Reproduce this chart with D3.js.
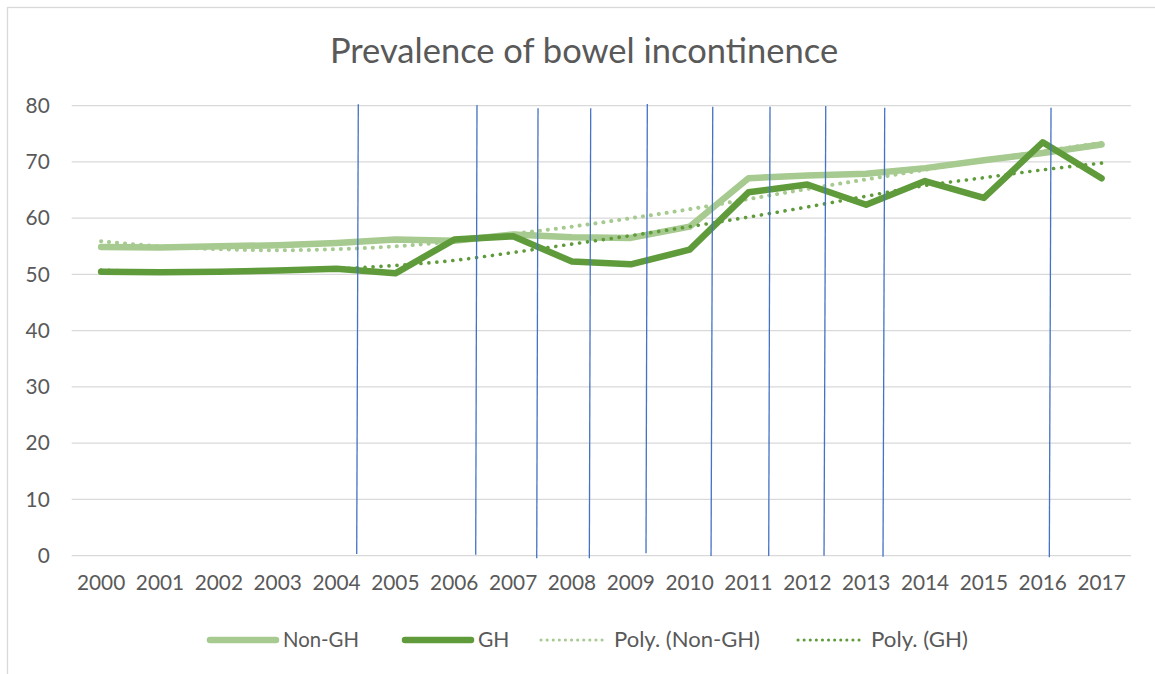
<!DOCTYPE html>
<html>
<head>
<meta charset="utf-8">
<script src="https://cdn.jsdelivr.net/npm/d3@7"></script>
<style>
  html, body { margin: 0; padding: 0; background: #fff; }
  svg { display: block; font-family: Lato, "Open Sans", sans-serif; }
</style>
</head>
<body>
<svg id="chart" width="1155" height="674"></svg>
<script>
// Category axis and series values
const years = ["2000","2001","2002","2003","2004","2005","2006","2007","2008","2009",
               "2010","2011","2012","2013","2014","2015","2016","2017"];
const nonGH = [54.9, 54.8, 55.0, 55.2, 55.6, 56.2, 56.0, 57.1, 56.6, 56.5,
               58.5, 67.1, 67.6, 67.9, 68.9, 70.3, 71.6, 73.1];
const gh    = [50.5, 50.4, 50.5, 50.7, 51.0, 50.2, 56.2, 56.8, 52.3, 51.8,
               54.4, 64.6, 66.0, 62.4, 66.6, 63.6, 73.5, 67.1];
// Polynomial trend lines
const polyNonGH = [55.9, 55.0, 54.5, 54.3, 54.5, 55.0, 55.9, 57.2, 58.5, 60.0,
                   61.6, 63.4, 65.2, 66.9, 68.6, 70.3, 71.9, 73.4];
const polyGH    = [50.8, 50.5, 50.4, 50.6, 51.0, 51.6, 52.5, 53.9, 55.4, 56.9,
                   58.5, 60.2, 62.0, 63.9, 65.8, 67.2, 68.6, 69.8];
const yTicks = [0, 10, 20, 30, 40, 50, 60, 70, 80];
// Hand-drawn vertical marker lines: [year offset top, value top, year offset bottom, value bottom]
const markers = [
  [4.370, 80.25, 4.343, 0.30],
  [6.387, 80.12, 6.365, 0.18],
  [7.424, 79.54, 7.402, -0.46],
  [8.319, 79.54, 8.296, -0.46],
  [9.281, 80.30, 9.259, 0.43],
  [10.393, 79.82, 10.364, -0.05],
  [11.366, 79.82, 11.344, -0.05],
  [12.313, 79.95, 12.284, 0.00],
  [13.315, 79.64, 13.286, -0.18],
  [16.141, 79.64, 16.112, -0.28]
];

const svg = d3.select("#chart");
const textColor = "#595959";
const gridColor = "#D9D9D9";
const lightGreen = "#A6CA8F";
const darkGreen = "#5F9B3B";
const blue = "#4472C4";
const font = "Lato, 'Open Sans', sans-serif";

// Chart-area border
svg.append("rect")
  .attr("x", 7.5).attr("y", 7.5)
  .attr("width", 1160).attr("height", 700)
  .attr("fill", "none").attr("stroke", gridColor).attr("stroke-width", 1.3);

const plot = { left: 71.7, right: 1131, top: 105.7, bottom: 555.7 };

const x = d3.scaleBand().domain(years).range([plot.left, plot.right]);
const y = d3.scaleLinear().domain([0, 80]).range([plot.bottom, plot.top]);
const xc = i => x(years[0]) + x.bandwidth() / 2 + i * x.step();

// Title
svg.append("text")
  .attr("x", 584).attr("y", 63)
  .attr("text-anchor", "middle")
  .attr("fill", textColor)
  .attr("font-size", 34.5)
  .text("Prevalence of bowel incontinence");

// Gridlines
svg.append("g")
  .selectAll("line").data(yTicks).join("line")
  .attr("x1", plot.left).attr("x2", plot.right)
  .attr("y1", d => y(d)).attr("y2", d => y(d))
  .attr("stroke", gridColor).attr("stroke-width", 1.3);

// Y axis labels
const yAxis = svg.append("g")
  .attr("transform", `translate(${plot.left},0)`)
  .call(d3.axisLeft(y).tickValues(yTicks).tickSize(0).tickPadding(22));
yAxis.select(".domain").remove();
yAxis.selectAll("text").attr("fill", textColor).attr("font-size", 20.8)
  .attr("font-family", font);

// X axis labels
const xAxis = svg.append("g")
  .attr("transform", `translate(0,${plot.bottom})`)
  .call(d3.axisBottom(x).tickSize(0).tickPadding(20));
xAxis.select(".domain").remove();
xAxis.selectAll("text").attr("fill", textColor).attr("font-size", 20.8)
  .attr("font-family", font);

// Series lines
const line = d3.line().x((d, i) => xc(i)).y(d => y(d));
const curve = d3.line().x((d, i) => xc(i)).y(d => y(d)).curve(d3.curveCatmullRom);

svg.append("path").datum(nonGH).attr("d", line)
  .attr("fill", "none").attr("stroke", lightGreen).attr("stroke-width", 6.5)
  .attr("stroke-linejoin", "round").attr("stroke-linecap", "round");
svg.append("path").datum(polyNonGH).attr("d", curve)
  .attr("fill", "none").attr("stroke", lightGreen).attr("stroke-width", 4)
  .attr("stroke-dasharray", "0.1 7.9").attr("stroke-linecap", "round");
svg.append("path").datum(gh).attr("d", line)
  .attr("fill", "none").attr("stroke", darkGreen).attr("stroke-width", 6.5)
  .attr("stroke-linejoin", "round").attr("stroke-linecap", "round");
svg.append("path").datum(polyGH).attr("d", curve)
  .attr("fill", "none").attr("stroke", darkGreen).attr("stroke-width", 3.6)
  .attr("stroke-dasharray", "0.1 7.9").attr("stroke-linecap", "round");

// Vertical marker lines
const step = x.step();
const x0 = xc(0);
svg.append("g")
  .selectAll("line").data(markers).join("line")
  .attr("x1", d => x0 + d[0] * step).attr("y1", d => y(d[1]))
  .attr("x2", d => x0 + d[2] * step).attr("y2", d => y(d[3]))
  .attr("stroke", blue).attr("stroke-width", 1.3);

// Legend
const legendItems = [
  { label: "Non-GH", color: lightGreen, width: 6.5, dash: null, x: 210, w: 76 },
  { label: "GH", color: darkGreen, width: 6.5, dash: null, x: 405, w: null },
  { label: "Poly. (Non-GH)", color: lightGreen, width: 3, dash: "0.1 6", x: 541, w: 146 },
  { label: "Poly. (GH)", color: darkGreen, width: 3, dash: "0.1 6", x: 798, w: 97 }
];
const legendY = 640;
const lg = svg.append("g").selectAll("g").data(legendItems).join("g")
  .attr("transform", d => `translate(${d.x},${legendY})`);
lg.append("line")
  .attr("x1", 0).attr("x2", 66)
  .attr("y1", 0).attr("y2", 0)
  .attr("stroke", d => d.color).attr("stroke-width", d => d.width)
  .attr("stroke-linecap", "round")
  .attr("stroke-dasharray", d => d.dash);
lg.append("text")
  .attr("x", 73).attr("y", 0).attr("dy", "0.35em")
  .attr("fill", textColor).attr("font-size", 21)
  .each(function (d) {
    if (d.w) d3.select(this).attr("textLength", d.w).attr("lengthAdjust", "spacingAndGlyphs");
  })
  .text(d => d.label);
</script>
</body>
</html>
